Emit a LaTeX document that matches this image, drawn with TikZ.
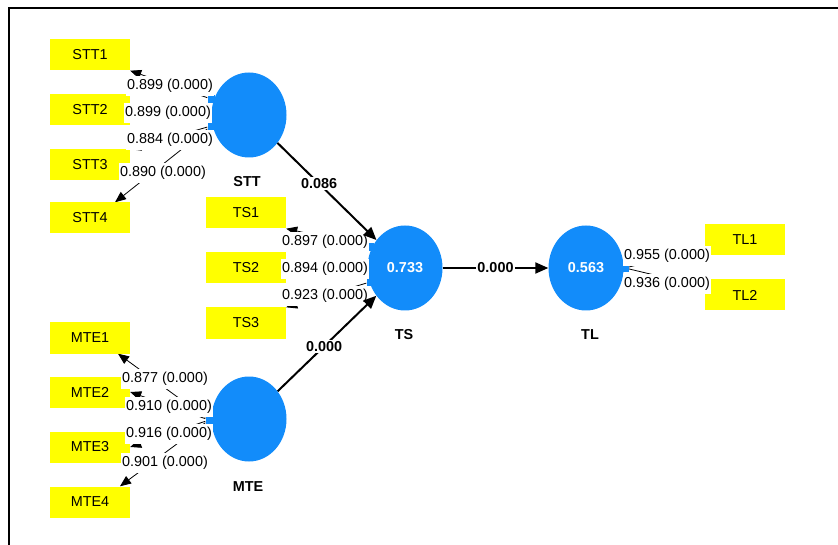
\documentclass[tikz,border=0pt]{standalone}
\usepackage{fontspec}
\setmainfont{Liberation Sans}
\usetikzlibrary{shapes.geometric,arrows.meta,backgrounds}
\definecolor{plsblue}{RGB}{18,140,250}
\definecolor{plsyellow}{RGB}{255,255,0}
\begin{document}
\begin{tikzpicture}[x=1pt,y=-1pt,
  txt/.style={font=\fontsize{14.4}{16}\selectfont},
  ind/.style={txt, rectangle, fill=plsyellow, minimum width=80pt, minimum height=31pt, inner sep=0pt},
  lat/.style={ellipse, fill=plsblue, minimum width=75pt, minimum height=85pt, inner sep=0pt, text=white, font=\bfseries\fontsize{14.4}{16}\selectfont},
  tabbox/.style={rectangle, fill=plsblue, minimum width=7pt, minimum height=8pt, inner sep=0pt},
  ld/.style={txt, fill=white, inner xsep=1pt, inner ysep=3pt},
  loadarrow/.style={draw=black, line width=0.8pt, -{Triangle[length=11pt,width=9pt]}},
  sarrow/.style={draw=black, line width=2pt, -{Triangle[length=13pt,width=11pt]}},
  plab/.style={fill=white, inner sep=1.5pt, font=\bfseries\fontsize{14.4}{16}\selectfont},
  lvname/.style={font=\bfseries\fontsize{14.4}{16}\selectfont}]
\useasboundingbox (0,0) rectangle (838,545);
% frame
\draw[line width=2pt] (9,545) -- (9,8) -- (838,8);
% indicator boxes
\node[ind] (stt1) at (90,55) {STT1};
\node[ind] (stt2) at (90,110) {STT2};
\node[ind] (stt3) at (90,165) {STT3};
\node[ind] (stt4) at (90,218) {STT4};
\node[ind] (ts1) at (246,213) {TS1};
\node[ind] (ts2) at (246,268) {TS2};
\node[ind] (ts3) at (246,323) {TS3};
\node[ind] (mte1) at (90,338) {MTE1};
\node[ind] (mte2) at (90,392) {MTE2};
\node[ind] (mte3) at (90,447) {MTE3};
\node[ind] (mte4) at (90,502) {MTE4};
\node[ind] (tl1) at (745,240) {TL1};
\node[ind] (tl2) at (745,295) {TL2};
% latent variables
\node[tabbox] (stttab1) at (211,99) {};
\node[tabbox] (stttab2) at (211,126) {};
\node[tabbox] (tstab1) at (370,247) {};
\node[tabbox] (tstab2) at (370,282) {};
\node[tabbox] (mtetab) at (209,420) {};
\node[tabbox] (tltab) at (625,268) {};
\node[lat] (stt) at (249,115) {};
\node[lat] (ts) at (405,268) {0.733};
\node[lat] (tl) at (586,268) {0.563};
\node[lat] (mte) at (249,419) {};
\node[lvname] (sttname) at (247,182) {STT};
\node[lvname] (tsname) at (404,335) {TS};
\node[lvname] (tlname) at (590,335) {TL};
\node[lvname] (mtename) at (248,487) {MTE};
% loading arrows (behind)
\begin{scope}[on background layer]
\draw[loadarrow] (stttab1) -- (stt1.south east);
\draw[loadarrow] ([yshift=-2pt]stt.west) -- (stt2.east);
\draw[loadarrow] (stttab2) -- (stt3.north east);
\draw[loadarrow] (stttab2) -- ([xshift=25pt]stt4.north);
\draw[loadarrow] (tstab1) -- (ts1.south east);
\draw[loadarrow] (ts.west) -- (ts2.east);
\draw[loadarrow] (tstab2) -- (ts3.north east);
\draw[loadarrow] (mtetab) -- ([xshift=28pt]mte1.south);
\draw[loadarrow] (mtetab) -- (mte2.east);
\draw[loadarrow] (mtetab) -- (mte3.east);
\draw[loadarrow] (mtetab) -- ([xshift=30pt]mte4.north);
\draw[loadarrow] (tltab) -- ([yshift=-8pt]tl1.west);
\draw[loadarrow] (tltab) -- ([yshift=8pt]tl2.west);
\end{scope}
% loading labels
\node[ld] (l1) at (170,86) {0.899 (0.000)};
\node[ld] (l2) at (168,113) {0.899 (0.000)};
\node[ld] (l3) at (170,140) {0.884 (0.000)};
\node[ld] (l4) at (163,173) {0.890 (0.000)};
\node[ld] (l5) at (325,242) {0.897 (0.000)};
\node[ld] (l6) at (325,269) {0.894 (0.000)};
\node[ld] (l7) at (325,296) {0.923 (0.000)};
\node[ld] (l8) at (165,379) {0.877 (0.000)};
\node[ld] (l9) at (169,407) {0.910 (0.000)};
\node[ld] (l10) at (169,434) {0.916 (0.000)};
\node[ld] (l11) at (165,463) {0.901 (0.000)};
\node[ld] (l12) at (667,256) {0.955 (0.000)};
\node[ld] (l13) at (667,284) {0.936 (0.000)};
% structural paths
\draw[sarrow] (stt) -- node[plab, pos=0.42] {0.086} (ts);
\draw[sarrow] (mte) -- node[plab, pos=0.47] {0.000} (ts);
\draw[sarrow] (ts) -- node[plab] {0.000} (tl);
\end{tikzpicture}
\end{document}
